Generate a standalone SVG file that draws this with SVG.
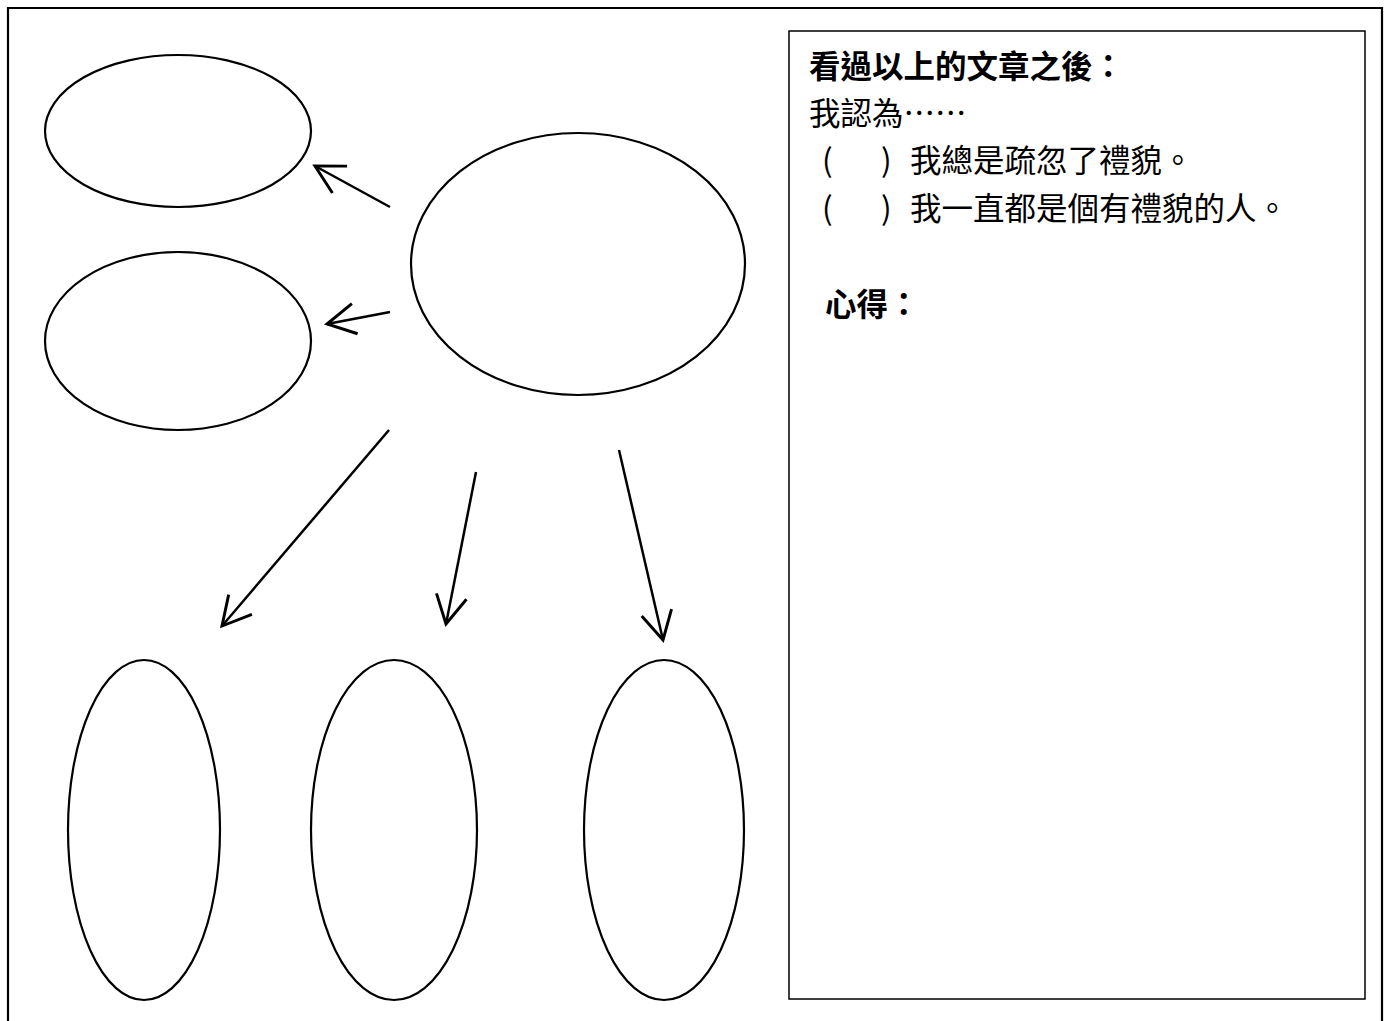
<svg xmlns="http://www.w3.org/2000/svg" width="1389" height="1021" viewBox="0 0 1389 1021">
<style>
.n{fill:#fff;stroke:#000;stroke-width:2.2}
.c line{stroke:#000;stroke-width:2.5;fill:none}
.t{font-family:"Noto Sans CJK TC","Noto Sans CJK SC",sans-serif;font-size:31.5px;fill:#000}
.b{font-weight:bold}
</style>
<defs>
<marker id="ah" markerUnits="userSpaceOnUse" markerWidth="40" markerHeight="40" viewBox="-30 -15 34 30" refX="0" refY="0" orient="auto">
<path d="M-24,-13 L0,0 L-24,13" fill="none" stroke="#000" stroke-width="2.5"/>
</marker>
</defs>
<rect width="1389" height="1021" fill="#fff"/>
<path d="M8,1021 V8 H1382 V1021" fill="none" stroke="#000" stroke-width="2.2"/>
<g id="panel">
<rect x="789" y="31" width="576" height="968" fill="none" stroke="#000" stroke-width="1.5"/>
<text class="t b" x="809" y="78">看過以上的文章之後：</text>
<text class="t" x="809" y="125">我認為……</text>
<text class="t" x="822" y="172">(</text><text class="t" x="881" y="172">)</text><text class="t" x="910" y="172">我總是疏忽了禮貌。</text>
<text class="t" x="822" y="220">(</text><text class="t" x="881" y="220">)</text><text class="t" x="910" y="220">我一直都是個有禮貌的人。</text>
<text class="t b" x="825" y="316">心得：</text>
</g>
<g id="n1"><ellipse class="n" cx="178" cy="131" rx="133" ry="76"/></g>
<g id="n2"><ellipse class="n" cx="178" cy="341" rx="133" ry="89"/></g>
<g id="center"><ellipse class="n" cx="578" cy="264" rx="167" ry="131"/></g>
<g id="n3"><ellipse class="n" cx="144" cy="830" rx="76" ry="170"/></g>
<g id="n4"><ellipse class="n" cx="394" cy="830" rx="83" ry="170"/></g>
<g id="n5"><ellipse class="n" cx="664" cy="830" rx="80" ry="170"/></g>
<g class="c" id="connectors">
<line x1="390" y1="207" x2="315" y2="166" marker-end="url(#ah)"/>
<line x1="390" y1="312" x2="327" y2="324" marker-end="url(#ah)"/>
<line x1="389" y1="430" x2="222" y2="626" marker-end="url(#ah)"/>
<line x1="476" y1="472" x2="446" y2="624" marker-end="url(#ah)"/>
<line x1="619" y1="450" x2="663" y2="640" marker-end="url(#ah)"/>
</g>
</svg>
